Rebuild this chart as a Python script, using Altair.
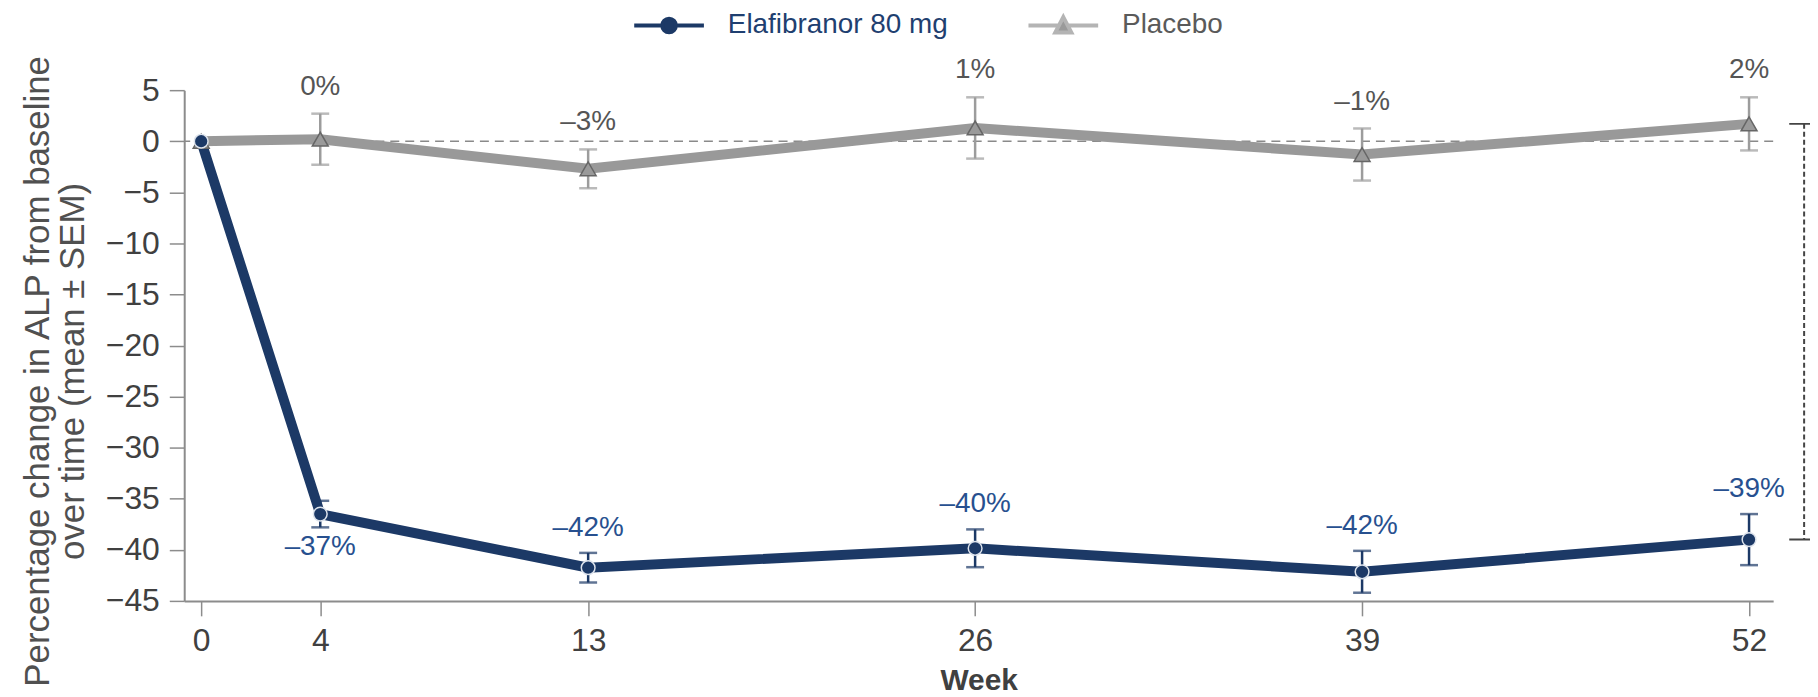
import altair as alt
import pandas as pd

# ---------------- data ----------------
weeks = [0, 4, 13, 26, 39, 52]
series_names = ["Elafibranor 80 mg", "Placebo"]

elaf_mean = [0.0, -36.5, -41.75, -39.85, -42.15, -39.0]
elaf_sem = [0.0, 1.3, 1.45, 1.85, 2.05, 2.5]
elaf_labels = ["", "–37%", "–42%", "–40%", "–42%", "–39%"]

placebo_mean = [0.0, 0.2, -2.7, 1.3, -1.3, 1.7]
placebo_sem = [0.0, 2.5, 1.9, 3.0, 2.55, 2.6]
placebo_labels = ["", "0%", "–3%", "1%", "–1%", "2%"]

x_ticks = [0, 4, 13, 26, 39, 52]
y_ticks = [-45, -40, -35, -30, -25, -20, -15, -10, -5, 0, 5]

y_title = ["Percentage change in ALP from baseline", "over time (mean ± SEM)"]
x_title = "Week"

# ---------------- styling ----------------
FONT = "Liberation Sans"
NAVY = "#1c3966"
NAVY_TEXT = "#27508f"
GRAY_LINE = "#999999"
GRAY_TEXT = "#555555"
AXIS_GRAY = "#8c8c8c"


def make_df(mean, sem, labels, name):
    return pd.DataFrame({
        "week": weeks,
        "series": name,
        "mean": mean,
        "sem": sem,
        "lower": [m - s for m, s in zip(mean, sem)],
        "upper": [m + s for m, s in zip(mean, sem)],
        "label": labels,
    })


elaf = make_df(elaf_mean, elaf_sem, elaf_labels, series_names[0])
plac = make_df(placebo_mean, placebo_sem, placebo_labels, series_names[1])

x_scale = alt.Scale(domain=[-0.57, 52.81], nice=False, zero=False)
y_scale = alt.Scale(domain=[-45, 5], nice=False, zero=False)

x_axis = alt.Axis(values=x_ticks, title=x_title, format="d",
                  titleFont=FONT, titleFontSize=30, titleFontWeight="bold",
                  titleColor="#404040", titlePadding=9, labelPadding=10)
y_axis = alt.Axis(values=y_ticks, title=y_title, format="d",
                  titleFont=FONT, titleFontSize=35, titleFontWeight="normal",
                  titleColor="#505050", titleAngle=270, titleX=-147, titleY=282,
                  titleAlign="center", titleBaseline="middle", titleLineHeight=35,
                  labelPadding=10)


def X(field):
    return alt.X(field, type="quantitative", scale=x_scale, axis=x_axis)


def Y(field):
    return alt.Y(field, type="quantitative", scale=y_scale, axis=y_axis)


zero_line = alt.Chart(pd.DataFrame({"zero": [0]})).mark_rule(
    color="#8a8a8a", strokeWidth=1.5, strokeDash=[9, 6]
).encode(y=Y("zero"))


def errorbars(df, color, width):
    base = alt.Chart(df).transform_filter("datum.sem > 0")
    bar = base.mark_rule(color=color, strokeWidth=width).encode(
        x=X("week"), y=Y("lower"), y2="upper")
    cap_lo = base.mark_tick(color=color, thickness=width, size=18,
                            orient="horizontal").encode(x=X("week"), y=Y("lower"))
    cap_hi = base.mark_tick(color=color, thickness=width, size=18,
                            orient="horizontal").encode(x=X("week"), y=Y("upper"))
    return [bar, cap_lo, cap_hi]


plac_line = alt.Chart(plac).mark_line(color=GRAY_LINE, strokeWidth=10).encode(
    x=X("week"), y=Y("mean"))
elaf_line = alt.Chart(elaf).mark_line(color=NAVY, strokeWidth=10).encode(
    x=X("week"), y=Y("mean"))

plac_pts = alt.Chart(plac).mark_point(
    shape="triangle-up", filled=True, size=256, fill="#9a9a9a",
    stroke="#666666", strokeWidth=1.5, opacity=1
).encode(x=X("week"), y=Y("mean"))
elaf_pts = alt.Chart(elaf).mark_point(
    shape="circle", filled=True, size=190, fill=NAVY,
    stroke="#dde3ec", strokeWidth=1.5, opacity=1
).encode(x=X("week"), y=Y("mean"))

plac_text = alt.Chart(plac).transform_filter("datum.label != ''").mark_text(
    font=FONT, fontSize=28, color=GRAY_TEXT, baseline="middle", align="center", dy=-27
).encode(x=X("week"), y=Y("upper"), text="label:N")
elaf_text_up = alt.Chart(elaf).transform_filter(
    "datum.label != '' && datum.week != 4").mark_text(
    font=FONT, fontSize=28, color=NAVY_TEXT, baseline="middle", align="center", dy=-25
).encode(x=X("week"), y=Y("upper"), text="label:N")
elaf_text_dn = alt.Chart(elaf).transform_filter("datum.week == 4").mark_text(
    font=FONT, fontSize=28, color=NAVY_TEXT, baseline="middle", align="center", dy=20
).encode(x=X("week"), y=Y("lower"), text="label:N")

# difference bracket at week 52 (annotation, right edge)
bracket_x = 53.85
bracket_df = pd.DataFrame({"bx": [bracket_x], "top": [placebo_mean[-1]],
                           "bottom": [elaf_mean[-1]]})
bracket = alt.Chart(bracket_df).mark_rule(
    color="#444444", strokeWidth=2, strokeDash=[5, 3]
).encode(x=X("bx"), y=Y("top"), y2="bottom")
caps_df = pd.DataFrame({"c1": [53.35, 53.35], "c2": [55.5, 55.5],
                        "v": [placebo_mean[-1], elaf_mean[-1]]})
bracket_caps = alt.Chart(caps_df).mark_rule(color="#444444", strokeWidth=2).encode(
    x=X("c1"), x2="c2", y=Y("v"))

# legend (line + marker symbols)
path_circle = ("M-1,0H-0.2M0.2,0H1M0.196,0A0.196,0.196,0,1,1,-0.196,0"
               "A0.196,0.196,0,1,1,0.196,0Z")
path_tri = "M-1,0H-0.15M0.15,0H1M0,-0.24L0.23,0.2L-0.23,0.2Z"
legend = alt.Legend(orient="none", legendX=450, legendY=-102, direction="horizontal",
                    title=None, labelFont=FONT, labelFontSize=28, labelOffset=22,
                    labelLimit=600, columnPadding=72, symbolSize=4900,
                    symbolStrokeWidth=4,
                    labelColor={"expr": "datum.value == 'Placebo' ? '#5a5a5a' : '#1f3f70'"})
legend_layer = alt.Chart(pd.DataFrame({"series": series_names})).transform_filter(
    "false").mark_point(size=4900, strokeWidth=4, opacity=1, filled=True).encode(
    shape=alt.Shape("series:N", scale=alt.Scale(domain=series_names,
                                                range=[path_circle, path_tri]),
                    legend=legend),
    fill=alt.Fill("series:N", scale=alt.Scale(domain=series_names,
                                              range=[NAVY, "#9a9a9a"]),
                  legend=legend),
    stroke=alt.Stroke("series:N", scale=alt.Scale(domain=series_names,
                                                  range=[NAVY, "#b4b4b4"]),
                      legend=legend),
)

layers = [zero_line]
layers += errorbars(plac, "#9c9c9c", 2.5)
layers += errorbars(elaf, NAVY, 2.5)
layers += [plac_line, elaf_line, plac_pts, elaf_pts,
           plac_text, elaf_text_up, elaf_text_dn, bracket, bracket_caps, legend_layer]

chart = alt.layer(*layers).properties(
    width=1596, height=513,
    padding={"left": 177, "top": 81, "right": 37, "bottom": 95},
    autosize=alt.AutoSizeParams(type="none"),
).configure_view(stroke=None).configure_axis(
    grid=False, domainColor=AXIS_GRAY, domainWidth=2, tickColor=AXIS_GRAY,
    tickWidth=1.5, tickSize=15, labelFont=FONT, labelFontSize=32,
    labelColor="#404040",
)

chart.save("out.html", embed_options={"renderer": "svg", "actions": False})
